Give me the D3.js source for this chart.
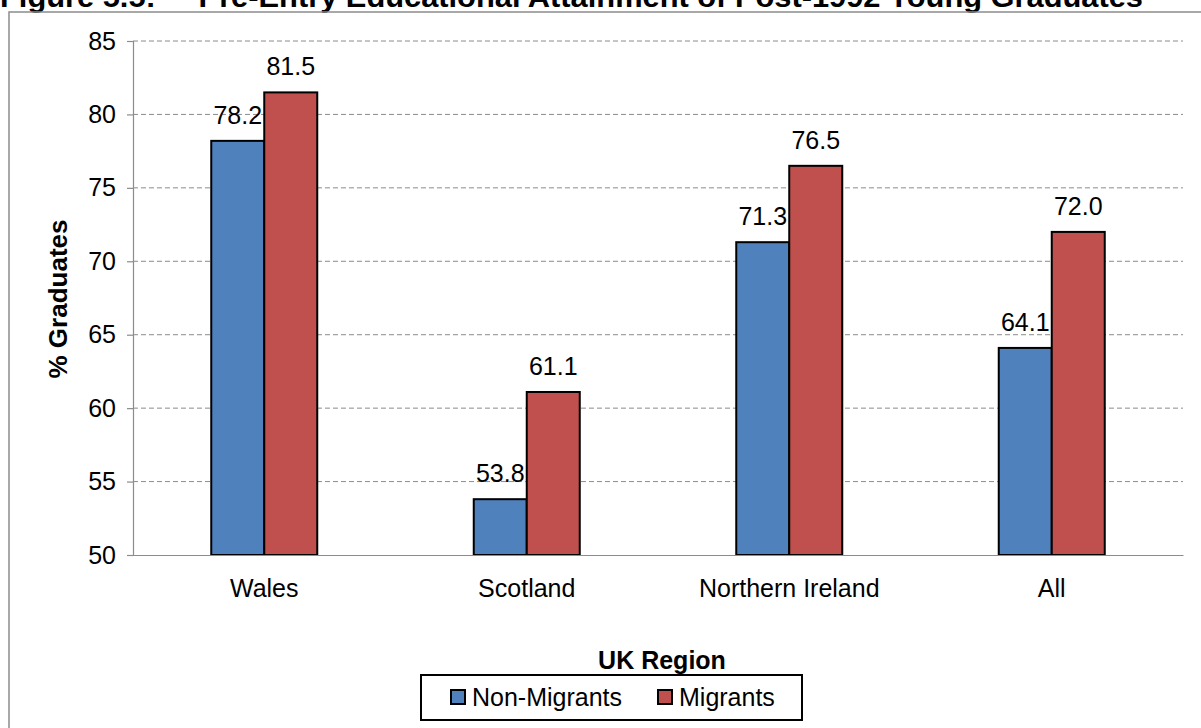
<!DOCTYPE html>
<html>
<head>
<meta charset="utf-8">
<script src="https://cdnjs.cloudflare.com/ajax/libs/d3/7.8.5/d3.min.js"></script>
<style>
  html, body { margin: 0; padding: 0; background: #fff; }
  svg { display: block; font-family: Arial, "Liberation Sans", sans-serif; }
</style>
</head>
<body>
<svg id="chart" width="1201" height="728"></svg>
<script>
// Regions and series values (% graduates)
const regions = ["Wales", "Scotland", "Northern Ireland", "All"];
const seriesNames = ["Non-Migrants", "Migrants"];
const nonMigrants = [78.2, 53.8, 71.3, 64.1];
const migrants = [81.5, 61.1, 76.5, 72.0];
const yTicks = [50, 55, 60, 65, 70, 75, 80, 85];
const colors = ["#4F81BD", "#C0504D"];

const svg = d3.select("#chart");
const W = 1201, H = 728;
const plot = { left: 133, right: 1183, top: 41, bottom: 555 };
const FS = 25;
const FONT = "Arial, 'Liberation Sans', sans-serif";

// Title (runs off the top edge)
svg.append("text")
  .attr("x", 0).attr("y", 7)
  .attr("font-size", 30).attr("font-weight", "bold")
  .attr("xml:space", "preserve")
  .attr("textLength", 1143).attr("lengthAdjust", "spacingAndGlyphs")
  .text("Figure 5.5:     Pre-Entry Educational Attainment of Post-1992 Young Graduates");

// Outer chart frame
svg.append("rect")
  .attr("x", 9).attr("y", 12)
  .attr("width", W + 20).attr("height", H + 20)
  .attr("fill", "none").attr("stroke", "#8c8c8c").attr("stroke-width", 1.5);

const x0 = d3.scaleBand().domain(regions).range([plot.left, plot.right]).paddingInner(0).paddingOuter(0);
const barW = 53;
const y = d3.scaleLinear().domain([50, 85]).range([plot.bottom, plot.top]);

// Gridlines
svg.append("g")
  .selectAll("line")
  .data(yTicks.filter(t => t > 50))
  .join("line")
  .attr("x1", plot.left).attr("x2", plot.right)
  .attr("y1", d => y(d)).attr("y2", d => y(d))
  .attr("stroke", "#8c8c8c").attr("stroke-width", 1)
  .attr("stroke-dasharray", "5,3");

// Y axis
const yAxis = svg.append("g")
  .attr("transform", `translate(${plot.left},0)`)
  .call(d3.axisLeft(y).tickValues(yTicks).tickSize(6).tickPadding(11));
yAxis.select(".domain").attr("stroke", "#8c8c8c").attr("stroke-width", 1.2);
yAxis.selectAll(".tick line").attr("stroke", "#8c8c8c").attr("stroke-width", 1.2);
yAxis.selectAll(".tick text").attr("font-size", FS).attr("fill", "#000")
  .attr("font-family", FONT);

// Bars
const rows = regions.map((r, i) => ({ region: r, values: [nonMigrants[i], migrants[i]] }));
const groups = svg.append("g").selectAll("g")
  .data(rows).join("g")
  .attr("transform", d => `translate(${x0(d.region) + x0.bandwidth() / 2},0)`);

groups.selectAll("rect")
  .data(d => d.values.map((v, j) => ({ v, j })))
  .join("rect")
  .attr("x", d => d.j === 0 ? -barW : 0)
  .attr("y", d => y(d.v))
  .attr("width", barW)
  .attr("height", d => y(50) - y(d.v))
  .attr("fill", d => colors[d.j])
  .attr("stroke", "#000").attr("stroke-width", 2);

groups.selectAll("text.val")
  .data(d => d.values.map((v, j) => ({ v, j })))
  .join("text")
  .attr("class", "val")
  .attr("x", d => d.j === 0 ? -barW / 2 : barW / 2)
  .attr("y", d => y(d.v) - 17)
  .attr("text-anchor", "middle")
  .attr("font-size", FS)
  .text(d => d.v.toFixed(1));

// X axis
const xAxis = svg.append("g")
  .attr("transform", `translate(0,${plot.bottom})`)
  .call(d3.axisBottom(x0).tickSize(0).tickPadding(24));
xAxis.select(".domain").attr("stroke", "#8c8c8c").attr("stroke-width", 1.2);
xAxis.selectAll(".tick text").attr("font-size", FS).attr("fill", "#000")
  .attr("font-family", FONT);

// Axis titles
svg.append("text")
  .attr("transform", `translate(67,${(218 + 380) / 2}) rotate(-90)`)
  .attr("text-anchor", "middle")
  .attr("font-size", 26).attr("font-weight", "bold")
  .text("% Graduates");

svg.append("text")
  .attr("x", 662).attr("y", 669)
  .attr("text-anchor", "middle")
  .attr("font-size", FS).attr("font-weight", "bold")
  .text("UK Region");

// Legend
const legend = svg.append("g");
legend.append("rect")
  .attr("x", 421).attr("y", 675).attr("width", 381).attr("height", 45)
  .attr("fill", "#fff").attr("stroke", "#000").attr("stroke-width", 2);
const legendX = [451, 658];
seriesNames.forEach((name, i) => {
  legend.append("rect")
    .attr("x", legendX[i]).attr("y", 690).attr("width", 14).attr("height", 14)
    .attr("fill", colors[i]).attr("stroke", "#000").attr("stroke-width", 2);
  legend.append("text")
    .attr("x", legendX[i] + 21).attr("y", 706)
    .attr("font-size", FS)
    .text(name);
});
</script>
</body>
</html>
